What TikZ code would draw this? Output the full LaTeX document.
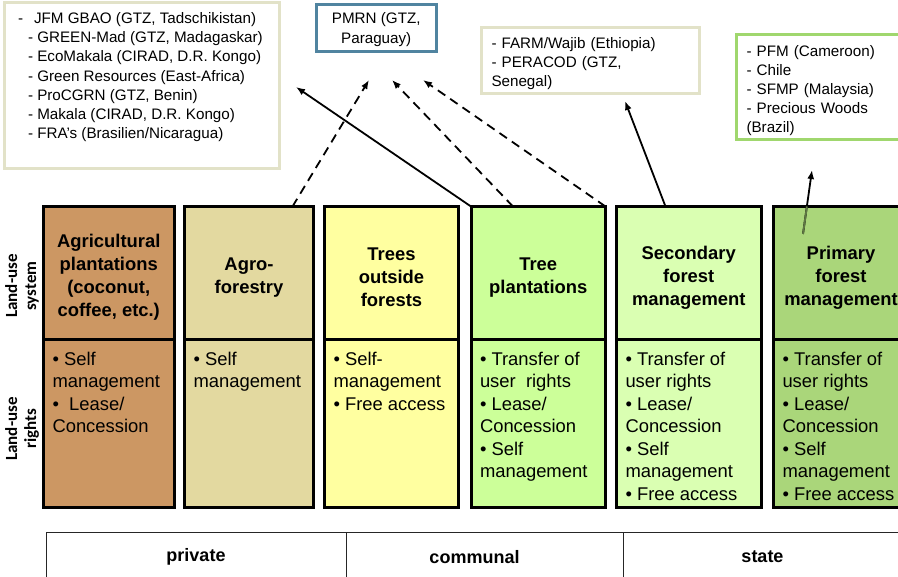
\documentclass[tikz,border=0pt]{standalone}
\usepackage{fontspec}
\setmainfont{Liberation Sans}
\newfontfamily\sidefont{Carlito}
\usetikzlibrary{positioning,arrows.meta,calc}
\definecolor{agricol}{RGB}{204,151,99}
\definecolor{agrocol}{RGB}{227,217,160}
\definecolor{tofcol}{RGB}{255,255,160}
\definecolor{plantcol}{RGB}{204,255,153}
\definecolor{seccol}{RGB}{218,255,178}
\definecolor{primcol}{RGB}{170,214,122}
\definecolor{beigeline}{RGB}{226,226,200}
\definecolor{blueline}{RGB}{80,132,160}
\definecolor{greenline}{RGB}{160,215,110}
\newcommand{\toptext}[3]{\parbox[t][#1][t]{#2}{\raggedright #3}}
\newcommand{\padtop}[1]{\rule{0pt}{#1}}
\tikzset{
  sysbox/.style={draw=black,line width=3pt,anchor=north west,outer sep=0pt,inner sep=0pt,
    minimum height=133.5pt,align=center,font=\fontsize{18.4}{23}\selectfont\bfseries},
  rightbox/.style={draw=black,line width=3pt,outer sep=0pt,inner xsep=9pt,inner ysep=12pt,
    font=\fontsize{18.4}{22.5}\selectfont},
  infobox/.style={line width=3pt,anchor=north west,outer sep=0pt,font=\fontsize{15.2}{19.2}\selectfont},
  tabcell/.style={draw=black!85,line width=0.8pt,anchor=north west,outer sep=0pt,
    minimum height=50pt,font=\fontsize{18}{21}\selectfont\bfseries},
  sidelabel/.style={rotate=90,align=center,font=\sidefont\fontsize{17}{19}\selectfont\bfseries},
  solidarrow/.style={line width=1.8pt,-{Latex[length=9pt,width=7pt]}},
  dashedarrow/.style={solidarrow,dash pattern=on 9pt off 6pt}
}
\begin{document}
\begin{tikzpicture}[x=1pt,y=-1pt]
\clip (0,0) rectangle (898,577);

% project examples
\node[infobox,draw=beigeline,inner xsep=13.5pt,inner ysep=10pt] (jfm) at (4.5,2.5)
  {\toptext{146pt}{248pt}{\leftskip=10pt\hspace*{-10pt}-\ \ \,JFM GBAO (GTZ, Tadschikistan)\\
   - GREEN-Mad (GTZ, Madagaskar)\\- EcoMakala (CIRAD, D.R. Kongo)\\- Green Resources (East-Africa)\\
   - ProCGRN (GTZ, Benin)\\- Makala (CIRAD, D.R. Kongo)\\- FRA's (Brasilien/Nicaragua)}};
\node[infobox,draw=blueline,minimum width=119.5pt,minimum height=47pt,inner sep=0pt,align=center,
  font=\fontsize{15.2}{20}\selectfont] (pmrn) at (316.5,5) {\padtop{13pt}PMRN (GTZ,\\Paraguay)};
\node[infobox,draw=beigeline,minimum width=217.5pt,minimum height=66.5pt,text width=198pt,
  inner xsep=10pt,align=left] (farm) at (481.5,27.5)
  {\padtop{17pt}- FARM/Wajib (Ethiopia)\\- PERACOD (GTZ,\\Senegal)};
\node[infobox,draw=greenline,minimum height=105pt,text width=150pt,inner xsep=10pt,align=left]
  (pfm) at (736.5,35) {\padtop{17pt}- PFM (Cameroon)\\- Chile\\- SFMP (Malaysia)\\- Precious Woods\\(Brazil)};

% land-use systems
\node[sysbox,fill=agricol,minimum width=130.5pt] (agri) at (43.5,206.5)
  {\padtop{21.5pt}Agricultural\\plantations\\(coconut,\\coffee, etc.)};
\node[sysbox,fill=agrocol,minimum width=129pt] (agro) at (184.5,206.5)
  {\padtop{21.5pt}Agro-\\forestry};
\node[sysbox,fill=tofcol,minimum width=134pt] (tof) at (324.5,206.5)
  {\padtop{21.5pt}Trees\\outside\\forests};
\node[sysbox,fill=plantcol,minimum width=134.5pt] (plant) at (471,206.5)
  {\padtop{21.5pt}Tree\\plantations};
\node[sysbox,fill=seccol,minimum width=144.5pt] (second) at (616.5,206.5)
  {\padtop{21.5pt}Secondary\\forest\\management};
\node[sysbox,fill=primcol,minimum width=135pt] (primary) at (773.5,206.5)
  {\padtop{21.5pt}Primary\\forest\\management};

% land-use rights
\node[rightbox,fill=agricol,minimum width=130.5pt,below=0pt of agri] (agrirights)
  {\toptext{144pt}{112.5pt}{• Self\\management\\•\ \ Lease/\\Concession}};
\node[rightbox,fill=agrocol,minimum width=129pt,below=0pt of agro] (agrorights)
  {\toptext{144pt}{111pt}{• Self\\management}};
\node[rightbox,fill=tofcol,minimum width=134pt,below=0pt of tof] (tofrights)
  {\toptext{144pt}{116pt}{• Self-\\management\\• Free access}};
\node[rightbox,fill=plantcol,minimum width=134.5pt,below=0pt of plant] (plantrights)
  {\toptext{144pt}{116.5pt}{• Transfer of\\user\ \ rights\\• Lease/\\Concession\\• Self\\management}};
\node[rightbox,fill=seccol,minimum width=144.5pt,below=0pt of second] (secondrights)
  {\toptext{144pt}{126.5pt}{• Transfer of\\user rights\\• Lease/\\Concession\\• Self\\management\\• Free access}};
\node[rightbox,fill=primcol,minimum width=135pt,below=0pt of primary] (primaryrights)
  {\toptext{144pt}{117pt}{• Transfer of\\user rights\\• Lease/\\Concession\\• Self\\management\\• Free access}};

% row labels
\node[sidelabel] (syslabel) at (22,286) {Land-use\\system};
\node[sidelabel] (rightslabel) at (22,429) {Land-use\\rights};

% ownership
\node[tabcell,minimum width=300pt] (private) at (46,532) {private};
\node[tabcell,minimum width=277pt] (communal) at (private.north east) {\hspace*{-20pt}communal};
\node[tabcell,minimum width=279pt] (state) at (communal.north east) {state};

% arrows to the examples
\coordinate (jfmtip) at (296,87);
\coordinate (pmrntipA) at (369,80);
\coordinate (pmrntipB) at (392,80);
\coordinate (pmrntipC) at (423,80);
\coordinate (farmtip) at (625,101);
\coordinate (pfmtip) at (812,170);
\coordinate (pfmfoot) at (803,234);
\draw[solidarrow] (plant.north west) -- (jfmtip);
\draw[dashedarrow] ([xshift=-21pt]agro.north east) -- (pmrntipA);
\draw[dashedarrow] ([xshift=42pt]plant.north west) -- (pmrntipB);
\draw[dashedarrow] (plant.north east) -- (pmrntipC);
\draw[solidarrow] ([xshift=49pt]second.north west) -- (farmtip);
\draw[solidarrow] (pfmfoot) -- (pfmtip);
\draw[line width=1.8pt,primcol!55!black] (pfmfoot) -- ($(pfmfoot)!0.43!(pfmtip)$);
\end{tikzpicture}
\end{document}
